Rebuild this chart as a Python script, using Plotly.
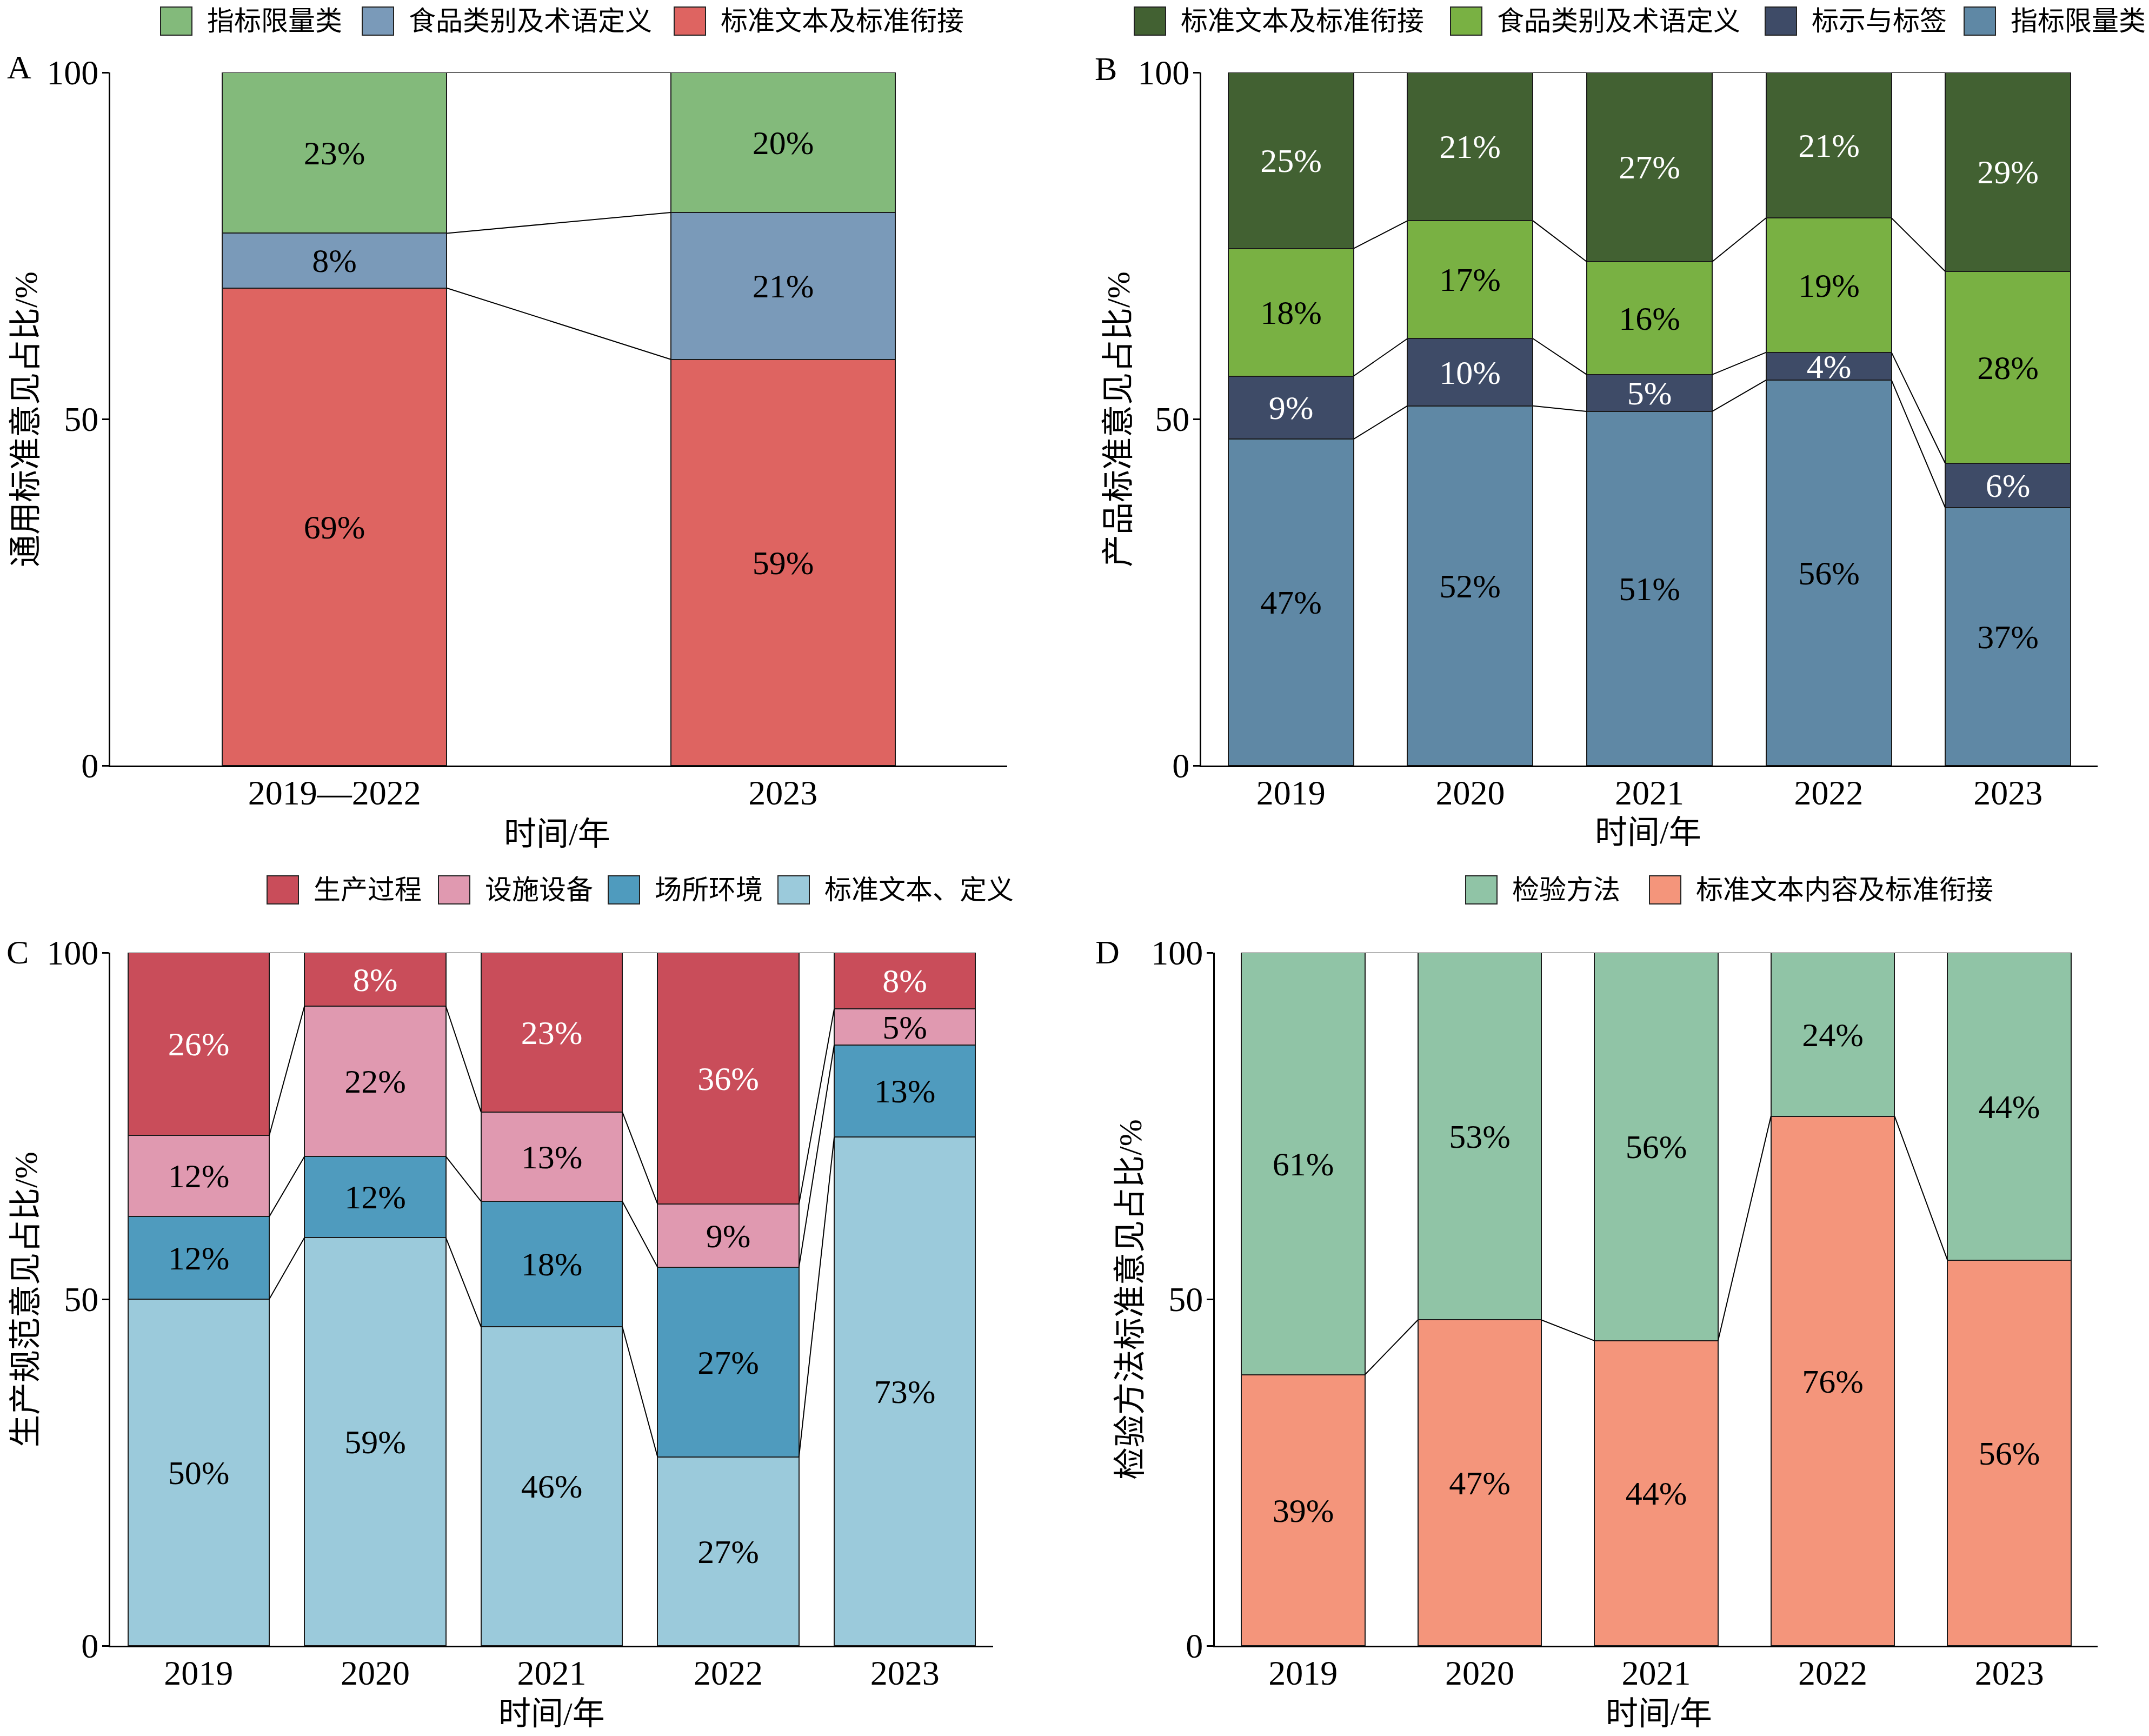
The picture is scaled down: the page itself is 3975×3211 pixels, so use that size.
import plotly.graph_objects as go

W, H = 3975, 3211
FONT = "Liberation Serif, Noto Sans CJK SC"

# ---------------- data ----------------
# Panel A (stack order bottom -> top)
a_categories = ["2019—2022", "2023"]
a_names = ["标准文本及标准衔接", "食品类别及术语定义", "指标限量类"]
a_std_text = [68.9, 58.6]
a_food_terms = [7.9, 21.2]
a_limits = [23.2, 20.2]
a_legend_order = ["指标限量类", "食品类别及术语定义", "标准文本及标准衔接"]

# Panel B
b_categories = ["2019", "2020", "2021", "2022", "2023"]
b_names = ["指标限量类", "标示与标签", "食品类别及术语定义", "标准文本及标准衔接"]
b_limits = [47.1, 51.9, 51.1, 55.6, 37.2]
b_labels = [9.1, 9.7, 5.3, 4.0, 6.4]
b_food_terms = [18.4, 17.0, 16.3, 19.4, 27.7]
b_std_text = [25.4, 21.4, 27.3, 21.0, 28.7]
b_legend_order = ["标准文本及标准衔接", "食品类别及术语定义", "标示与标签", "指标限量类"]

# Panel C
c_categories = ["2019", "2020", "2021", "2022", "2023"]
c_names = ["标准文本、定义", "场所环境", "设施设备", "生产过程"]
c_std_text = [50.0, 58.9, 46.0, 27.2, 73.4]
c_site_env = [11.9, 11.7, 18.1, 27.4, 13.3]
c_facility = [11.7, 21.7, 12.9, 9.1, 5.2]
c_process = [26.4, 7.7, 23.0, 36.3, 8.1]
c_legend_order = ["生产过程", "设施设备", "场所环境", "标准文本、定义"]

# Panel D
d_categories = ["2019", "2020", "2021", "2022", "2023"]
d_names = ["标准文本内容及标准衔接", "检验方法"]
d_std_text = [39.1, 47.0, 44.0, 76.4, 55.6]
d_methods = [60.9, 53.0, 56.0, 23.6, 44.4]
d_legend_order = ["检验方法", "标准文本内容及标准衔接"]

y_ticks = [0, 50, 100]

# ---------------- styles ----------------
a_colors = {"标准文本及标准衔接": "#DE6461", "食品类别及术语定义": "#7A9AB9", "指标限量类": "#83BA7B"}
a_tcolors = {"标准文本及标准衔接": "black", "食品类别及术语定义": "black", "指标限量类": "black"}
b_colors = {"指标限量类": "#5F88A5", "标示与标签": "#3E4B67", "食品类别及术语定义": "#79B143", "标准文本及标准衔接": "#426132"}
b_tcolors = {"指标限量类": "black", "标示与标签": "white", "食品类别及术语定义": "black", "标准文本及标准衔接": "white"}
c_colors = {"标准文本、定义": "#9BCADB", "场所环境": "#4F9BBE", "设施设备": "#E099B0", "生产过程": "#C94D5A"}
c_tcolors = {"标准文本、定义": "black", "场所环境": "black", "设施设备": "black", "生产过程": "white"}
d_colors = {"标准文本内容及标准衔接": "#F4957B", "检验方法": "#90C4A6"}
d_tcolors = {"标准文本内容及标准衔接": "black", "检验方法": "black"}


def px(x):
    return x / W


def py(y):
    return 1 - y / H


fig = go.Figure()


def add_panel(xa, ya, categories, series, names, colors, tcolors, width):
    xs = list(range(len(categories)))
    cum = [0.0] * len(xs)
    levels = []
    for vals, name in zip(series, names):
        fig.add_trace(go.Bar(
            x=xs, y=vals, name=name, width=width, xaxis=xa, yaxis=ya,
            marker=dict(color=colors[name], line=dict(color="#1a1a1a", width=2)),
            text=[f"{round(v)}%" for v in vals], textposition="inside",
            insidetextanchor="middle", textangle=0,
            textfont=dict(family=FONT, size=62, color=tcolors[name]),
            showlegend=False, hoverinfo="skip"))
        cum = [c + v for c, v in zip(cum, vals)]
        levels.append(list(cum))
    lx, ly = [], []
    for lev in levels:
        for i in range(len(xs) - 1):
            lx += [xs[i] + width / 2, xs[i + 1] - width / 2, None]
            ly += [lev[i], lev[i + 1], None]
    fig.add_trace(go.Scatter(x=lx, y=ly, mode="lines", xaxis=xa, yaxis=ya,
                             line=dict(color="black", width=2),
                             showlegend=False, hoverinfo="skip"))


add_panel("x", "y", a_categories, [a_std_text, a_food_terms, a_limits], a_names, a_colors, a_tcolors, 0.5)
add_panel("x2", "y2", b_categories, [b_limits, b_labels, b_food_terms, b_std_text], b_names, b_colors, b_tcolors, 0.70)
add_panel("x3", "y3", c_categories, [c_std_text, c_site_env, c_facility, c_process], c_names, c_colors, c_tcolors, 0.80)
add_panel("x4", "y4", d_categories, [d_std_text, d_methods], d_names, d_colors, d_tcolors, 0.70)


def xaxis_cfg(domain, cats, anchor):
    return dict(domain=domain, range=[-0.5, len(cats) - 0.5], tickvals=list(range(len(cats))),
                ticktext=cats, showline=True, linewidth=3, linecolor="black", ticks="",
                showgrid=False, zeroline=False, anchor=anchor, ticklabelstandoff=-8,
                automargin=False,
                tickfont=dict(family=FONT, size=64, color="black"), fixedrange=True)


def yaxis_cfg(domain, anchor):
    return dict(domain=domain, range=[0, 100], tickvals=y_ticks, ticks="outside", ticklen=12,
                tickwidth=3, tickcolor="black", showline=True, linewidth=3, linecolor="black",
                showgrid=False, zeroline=False, anchor=anchor, ticklabelstandoff=-6,
                automargin=False,
                tickfont=dict(family=FONT, size=64, color="black"), fixedrange=True)


top_y = [py(1416), py(134)]
bot_y = [py(3044), py(1762)]

annotations = []
shapes = []


def text_ann(x, y, text, size=60, angle=0, xanchor="center"):
    annotations.append(dict(x=px(x), y=py(y), xref="paper", yref="paper", text=text,
                            showarrow=False, textangle=angle, xanchor=xanchor, yanchor="middle",
                            font=dict(family=FONT, size=size, color="black")))


# panel letters
text_ann(35, 124, "A", 62)
text_ann(2046, 127, "B", 62)
text_ann(32, 1761, "C", 62)
text_ann(2048, 1761, "D", 62)

# axis titles
text_ann(1030, 1543, "时间/年")
text_ann(3048, 1540, "时间/年")
text_ann(1020, 3170, "时间/年")
text_ann(3068, 3170, "时间/年")
text_ann(48, 776, "通用标准意见占比/%", angle=-90)
text_ann(2069, 776, "产品标准意见占比/%", angle=-90)
text_ann(48, 2404, "生产规范意见占比/%", angle=-90)
text_ann(2091, 2404, "检验方法标准意见占比/%", angle=-90)


# manual legends
def legend(names, colors, box_xs, yc):
    for name, bx in zip(names, box_xs):
        shapes.append(dict(type="rect", xref="paper", yref="paper",
                           x0=px(bx), x1=px(bx + 58), y0=py(yc + 26), y1=py(yc - 26),
                           fillcolor=colors[name], line=dict(color="#222", width=2)))
        text_ann(bx + 84, yc, name, 50, xanchor="left")


legend(a_legend_order, a_colors, [297, 670, 1247], 39)
legend(b_legend_order, b_colors, [2098, 2683, 3265, 3633], 39)
legend(c_legend_order, c_colors, [494, 811, 1125, 1439], 1646)
legend(d_legend_order, d_colors, [2711, 3051], 1646)

fig.update_layout(
    width=W, height=H, margin=dict(l=0, r=0, t=0, b=0, pad=0, autoexpand=False),
    paper_bgcolor="white", plot_bgcolor="white",
    barmode="stack", bargap=0, showlegend=False,
    uniformtext=dict(minsize=62, mode="show"),
    font=dict(family=FONT, size=60, color="black"),
    xaxis=xaxis_cfg([px(204), px(1863)], a_categories, "y"),
    yaxis=yaxis_cfg(top_y, "x"),
    xaxis2=xaxis_cfg([px(2222), px(3880)], b_categories, "y2"),
    yaxis2=yaxis_cfg(top_y, "x2"),
    xaxis3=xaxis_cfg([px(204), px(1837)], c_categories, "y3"),
    yaxis3=yaxis_cfg(bot_y, "x3"),
    xaxis4=xaxis_cfg([px(2247), px(3880)], d_categories, "y4"),
    yaxis4=yaxis_cfg(bot_y, "x4"),
    annotations=annotations, shapes=shapes,
)

fig.write_html("out.html", config={"displayModeBar": False},
               post_script="document.body.style.margin='0';document.body.style.overflow='hidden';")
